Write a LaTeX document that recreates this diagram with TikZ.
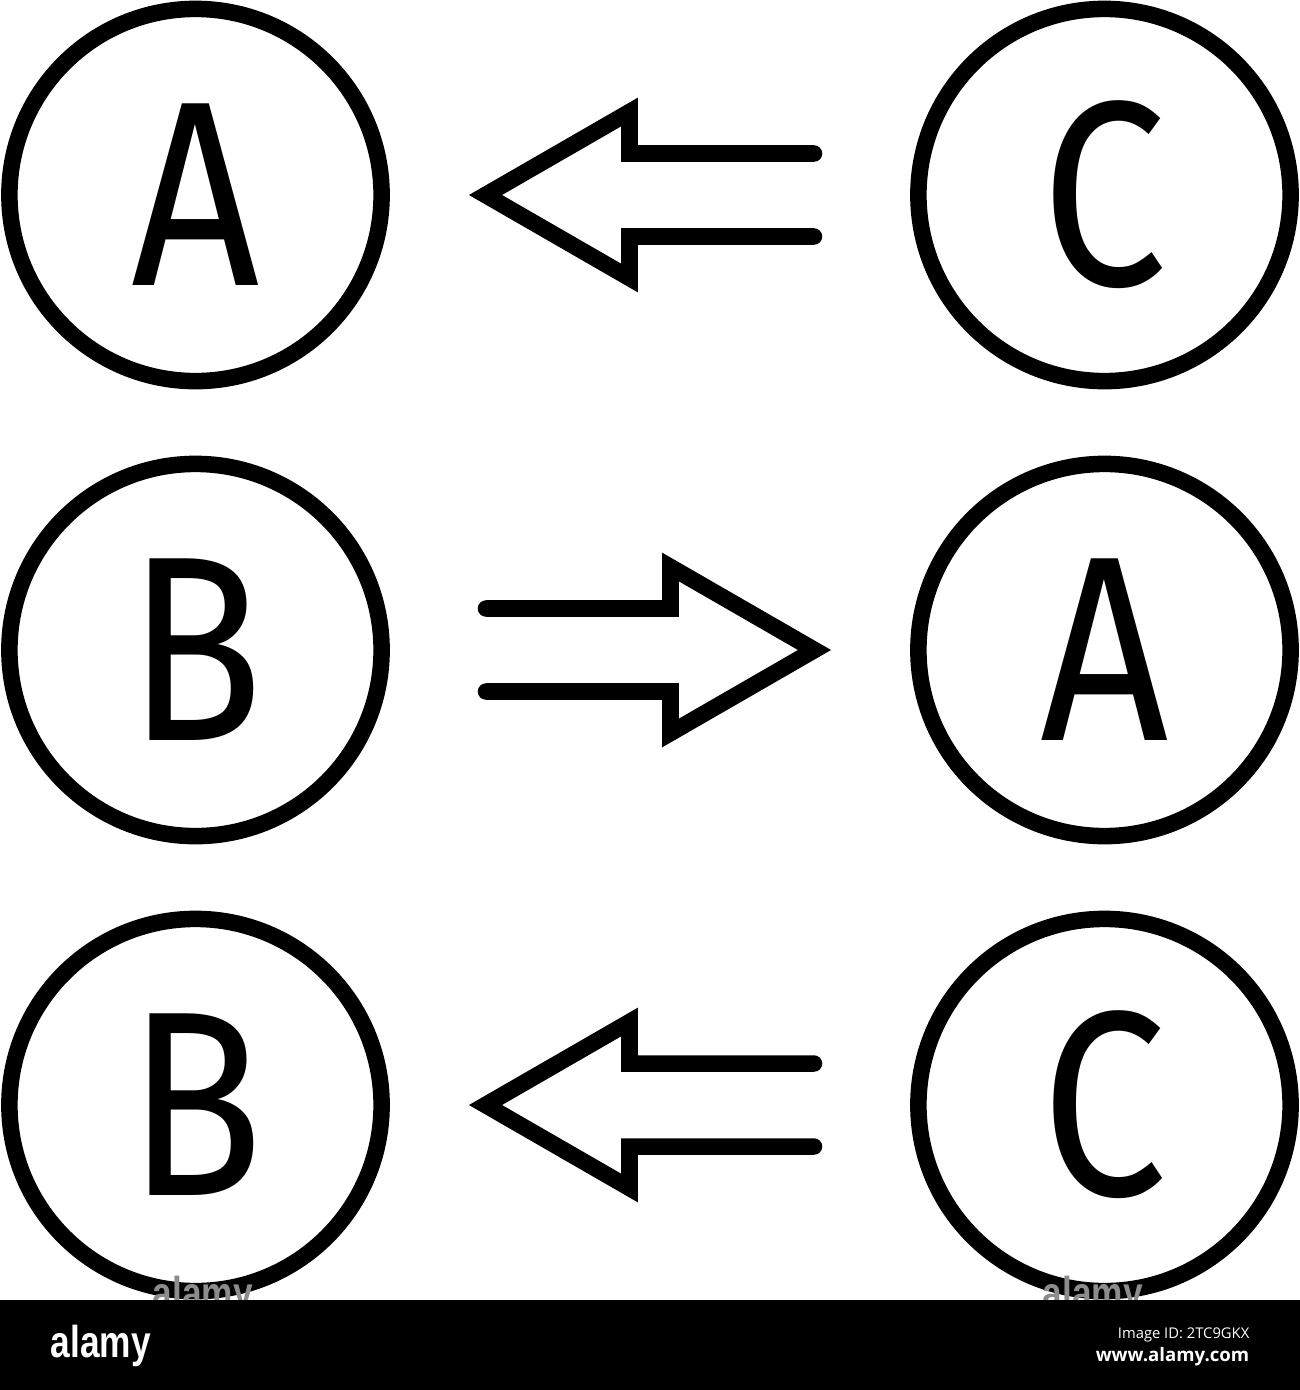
\documentclass[tikz,border=0pt]{standalone}
\usepackage{fontspec}
\setmainfont{Open Sans}
\newfontfamily\letterfont{Fira Sans}
\newfontfamily\logofont{Liberation Sans}
\usetikzlibrary{calc}
\newcommand{\glyph}[1]{\scalebox{0.85}[1]{#1}}
\newcommand{\logo}[1]{\scalebox{0.79}[1]{\logofont\bfseries #1}}
\begin{document}
\begin{tikzpicture}[x=0.01cm,y=-0.01cm,
    letter/.style={circle,draw,line width=4.7pt,minimum size=3.72cm,inner sep=0pt,
        font=\letterfont\fontsize{75}{75}\selectfont},
    dbl/.style={line width=4.7pt,line cap=round,miter limit=10}]
    \useasboundingbox (0,0) rectangle (1300,1390);
    \node[letter] (a1) at (195.5,195) {\glyph{A}};
    \node[letter] (c1) at (1104.5,195) {\glyph{C}};
    \node[letter] (b2) at (195.5,650) {\glyph{B}};
    \node[letter] (a2) at (1104.5,650) {\glyph{A}};
    \node[letter] (b3) at (195.5,1105) {\glyph{B}};
    \node[letter] (c3) at (1104.5,1105) {\glyph{C}};
    % C to A
    \draw[dbl] ($(c1)+(-290.5,-41.5)$) -- ($(a1)+(434,-41.5)$) -- ($(a1)+(434,-83)$)
        -- ($(a1)+(290,0)$) -- ($(a1)+(434,83)$) -- ($(a1)+(434,41.5)$) -- ($(c1)+(-290.5,41.5)$);
    % B to A
    \draw[dbl] ($(b2)+(290.5,-41.5)$) -- ($(a2)+(-434,-41.5)$) -- ($(a2)+(-434,-83)$)
        -- ($(a2)+(-290,0)$) -- ($(a2)+(-434,83)$) -- ($(a2)+(-434,41.5)$) -- ($(b2)+(290.5,41.5)$);
    % C to B
    \draw[dbl] ($(c3)+(-290.5,-41.5)$) -- ($(b3)+(434,-41.5)$) -- ($(b3)+(434,-83)$)
        -- ($(b3)+(290,0)$) -- ($(b3)+(434,83)$) -- ($(b3)+(434,41.5)$) -- ($(c3)+(-290.5,41.5)$);
    % watermark and footer
    \node[text=black!45,anchor=base west,inner sep=0pt,font=\fontsize{12.7}{12.7}\selectfont] (wm1) at (152,1308) {\logo{alamy}};
    \node[text=black!45,anchor=base west,inner sep=0pt,font=\fontsize{12.7}{12.7}\selectfont] (wm2) at (1042,1308) {\logo{alamy}};
    \fill (0,1300) rectangle (1300,1390);
    \node[text=white,anchor=base west,inner sep=0pt,font=\fontsize{12.7}{12.7}\selectfont] (brand) at (50,1357) {\logo{alamy}};
    \node[text=white,anchor=base east,inner sep=0pt,font=\fontsize{4.2}{4.2}\selectfont] (imgid) at (1250,1338) {Image ID: 2TC9GKX};
    \node[text=white,anchor=base east,inner sep=0pt,font=\fontsize{5.3}{5.3}\selectfont\bfseries] (web) at (1250,1361) {www.alamy.com};
\end{tikzpicture}
\end{document}
